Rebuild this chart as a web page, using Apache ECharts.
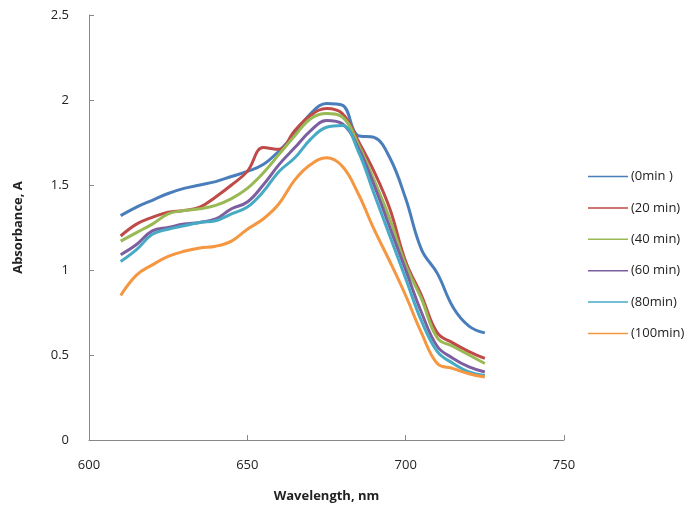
<!DOCTYPE html>
<html>
<head>
<meta charset="utf-8">
<script src="https://cdn.jsdelivr.net/npm/echarts@6/dist/echarts.min.js"></script>
<style>
  html, body { margin: 0; padding: 0; background: #fff; }
  #chart { width: 699px; height: 508px; }
</style>
</head>
<body>
<div id="chart"></div>
<script>
// wavelengths (nm)
const wavelengths = [610, 615, 620, 625, 630, 635, 640, 645, 650, 655, 660, 665, 670, 675, 680, 685, 690, 695, 700, 705, 710, 715, 720, 725]

// absorbance
const min0 = [1.32, 1.37, 1.41, 1.45, 1.48, 1.50, 1.52, 1.55, 1.58, 1.62, 1.70, 1.80, 1.92, 1.98, 1.97, 1.79, 1.78, 1.66, 1.42, 1.12, 0.98, 0.78, 0.67, 0.63]
const min20 = [1.20, 1.27, 1.31, 1.34, 1.35, 1.37, 1.43, 1.50, 1.58, 1.72, 1.71, 1.82, 1.91, 1.95, 1.92, 1.76, 1.58, 1.36, 1.05, 0.85, 0.63, 0.57, 0.52, 0.48]
const min40 = [1.17, 1.22, 1.27, 1.33, 1.35, 1.36, 1.38, 1.42, 1.48, 1.57, 1.68, 1.79, 1.89, 1.92, 1.90, 1.74, 1.53, 1.30, 1.03, 0.83, 0.60, 0.55, 0.50, 0.45]
const min60 = [1.09, 1.15, 1.23, 1.25, 1.27, 1.28, 1.30, 1.36, 1.40, 1.50, 1.62, 1.72, 1.82, 1.88, 1.86, 1.72, 1.50, 1.25, 1.00, 0.75, 0.55, 0.48, 0.43, 0.40]
const min80 = [1.05, 1.12, 1.21, 1.24, 1.26, 1.28, 1.29, 1.33, 1.37, 1.46, 1.58, 1.66, 1.77, 1.84, 1.85, 1.70, 1.45, 1.20, 0.95, 0.70, 0.52, 0.45, 0.40, 0.38]
const min100 = [0.85, 0.97, 1.03, 1.08, 1.11, 1.13, 1.14, 1.17, 1.24, 1.30, 1.39, 1.53, 1.62, 1.66, 1.61, 1.45, 1.24, 1.05, 0.85, 0.63, 0.45, 0.42, 0.39, 0.37]

const seriesNames = ['(0min )', '(20 min)', '(40 min)', '(60 min)', '(80min)', '(100min)']
const seriesData = [min0, min20, min40, min60, min80, min100]
const colors = ['#4A7EBB', '#BE4B48', '#98B954', '#7D5FA0', '#46AAC5', '#F59640']

const font = '"Open Sans", sans-serif'

const chart = echarts.init(document.getElementById('chart'))

const options = {
    animation: false,
    color: colors,
    grid: { left: 89, right: 135, top: 15, bottom: 68 },
    legend: {
        orient: 'vertical',
        left: 583,
        top: 165,
        itemWidth: 40,
        itemHeight: 14,
        itemGap: 18.4,
        icon: 'rect',
        itemStyle: { borderWidth: 0 },
        textStyle: { fontFamily: font, fontSize: 13, color: '#222', padding: [0, 0, 0, -2] },
        data: seriesNames.map((n, i) => ({
            name: n,
            icon: 'path://M0,6.5L40,6.5L40,8L0,8Z'
        }))
    },
    xAxis: {
        type: 'value',
        min: 600,
        max: 750,
        interval: 50,
        name: 'Wavelength, nm',
        nameLocation: 'middle',
        nameGap: 50,
        nameTextStyle: { fontFamily: font, fontSize: 13, fontWeight: 'bold', color: '#222' },
        axisLine: { lineStyle: { color: '#888', width: 1 } },
        axisTick: { inside: true, length: 5, lineStyle: { color: '#888' } },
        axisLabel: { fontFamily: font, fontSize: 13, color: '#222', margin: 19 },
        splitLine: { show: false }
    },
    yAxis: {
        type: 'value',
        min: 0,
        max: 2.5,
        interval: 0.5,
        name: 'Absorbance, A',
        nameLocation: 'middle',
        nameGap: 64,
        nameTextStyle: { fontFamily: font, fontSize: 13, fontWeight: 'bold', color: '#222' },
        axisLine: { show: true, lineStyle: { color: '#888', width: 1 } },
        axisTick: { show: true, inside: true, length: 5, lineStyle: { color: '#888' } },
        axisLabel: { fontFamily: font, fontSize: 13, color: '#222', margin: 20 },
        splitLine: { show: false }
    },
    series: seriesNames.map((name, i) => ({
        name: name,
        type: 'line',
        smooth: 0.4,
        symbol: 'none',
        lineStyle: { width: 3, color: colors[i] },
        itemStyle: { color: colors[i] },
        data: wavelengths.map((w, j) => [w, seriesData[i][j]])
    }))
}

chart.setOption(options)
</script>
</body>
</html>
